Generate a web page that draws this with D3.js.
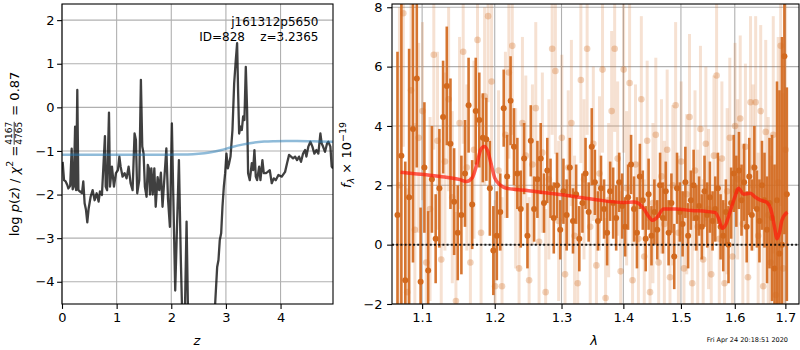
<!DOCTYPE html>
<html><head><meta charset="utf-8">
<script src="https://cdn.jsdelivr.net/npm/d3@7"></script>
<style>body{margin:0;background:#fff} svg{display:block;font-family:"DejaVu Sans",sans-serif}</style>
</head><body><svg id="c" width="800" height="350"></svg>
<script>
// ---------- Left panel data: log p(z) ----------
const pzZ = [0.012,0.037,0.067,0.097,0.116,0.150,0.177,0.195,0.215,0.240,0.258,0.280,0.300,0.329,0.366,0.390,0.414,0.439,0.463,0.488,0.524,0.561,0.597,0.634,0.670,0.695,0.731,0.786,0.800,0.825,0.860,0.878,0.914,0.951,0.987,1.024,1.050,1.073,1.109,1.146,1.182,1.219,1.255,1.292,1.328,1.353,1.377,1.414,1.444,1.469,1.493,1.517,1.548,1.570,1.590,1.610,1.635,1.660,1.690,1.715,1.750,1.780,1.810,1.840,1.875,1.910,1.940,1.975,2.011,2.035,2.072,2.108,2.140,2.175,2.205,2.245,2.280,2.310,2.400,2.550,2.700,2.803,2.840,2.864,2.888,2.913,2.937,2.962,2.986,3.010,3.035,3.059,3.084,3.120,3.151,3.181,3.205,3.224,3.242,3.266,3.291,3.315,3.339,3.364,3.388,3.406,3.437,3.474,3.498,3.522,3.547,3.571,3.608,3.632,3.668,3.693,3.729,3.766,3.803,3.839,3.876,3.912,3.961,4.022,4.083,4.119,4.156,4.193,4.229,4.266,4.302,4.339,4.375,4.412,4.449,4.473,4.509,4.546,4.583,4.619,4.656,4.692,4.729,4.753,4.778,4.814,4.851,4.875,4.912,4.936,4.960];
const pzLog = [-1.25,-1.67,-1.70,-1.78,-1.86,-1.80,-0.95,-1.88,-1.82,-0.44,-1.90,0.40,-1.90,-1.93,-1.97,-1.70,-2.20,-2.35,-2.64,-2.32,-2.05,-1.90,-2.13,-1.97,-2.16,-1.93,-2.01,-0.66,-1.82,-1.90,-0.12,-1.82,-1.36,-1.82,-1.51,-1.44,-1.13,-1.36,-1.59,-1.51,-1.63,-1.36,-1.74,-1.90,-0.60,-0.75,-1.97,-1.67,0.63,-0.90,-1.06,-1.82,-2.05,-1.32,-1.40,-2.00,-1.40,-2.00,-1.40,-2.28,-1.60,-1.90,-1.50,-2.28,-1.60,-0.94,-2.10,-2.74,-0.37,-1.90,-4.20,-2.60,-1.21,-3.50,-5.00,-5.00,-2.62,-5.00,-7.00,-8.00,-6.50,-4.51,-3.66,-3.50,-3.04,-2.89,-2.28,-1.82,-1.51,-1.06,-1.40,-1.28,-1.13,-0.52,0.55,1.09,1.47,0.32,-0.60,-0.44,-0.52,-0.21,-0.29,0.93,-0.06,-1.51,-1.67,-1.28,-1.44,-0.98,-1.59,-1.67,-1.36,-1.67,-1.21,-1.51,-1.51,-1.48,-1.44,-1.74,-1.63,-1.67,-1.55,-1.59,-1.48,-1.28,-1.09,-1.13,-1.17,-1.13,-1.21,-1.13,-1.25,-1.06,-0.98,-1.13,-0.90,-0.79,-0.90,-1.06,-0.98,-1.06,-0.60,-0.83,-0.90,-1.02,-0.83,-0.79,-0.90,-1.36,-1.40];
const priorZ = [0,0.5,1.0,1.5,2.0,2.3,2.5,2.7,2.9,3.1,3.3,3.5,3.7,3.9,4.1,4.3,4.5,4.7,4.96];
const priorLog = [-1.09,-1.09,-1.09,-1.09,-1.085,-1.08,-1.065,-1.035,-0.985,-0.915,-0.855,-0.81,-0.785,-0.775,-0.77,-0.772,-0.777,-0.782,-0.79];
const zTicks = [0,1,2,3,4];
const zTickLabels = ["0","1","2","3","4"];
const logTicks = [-4,-3,-2,-1,0,1,2];
const logTickLabels = ["\u22124","\u22123","\u22122","\u22121","0","1","2"];

// ---------- Right panel data: spectrum ----------
const darkLam = [1.068,1.073,1.078,1.083,1.088,1.093,1.098,1.103,1.108,1.113,1.118,1.123,1.128,1.133,1.138,1.143,1.148,1.153,1.158,1.163,1.168,1.173,1.178,1.183,1.188,1.193,1.198,1.203,1.208,1.213,1.218,1.223,1.228,1.233,1.238,1.243,1.248,1.253,1.258,1.263,1.268,1.273,1.278,1.283,1.288,1.293,1.298,1.303,1.308,1.313,1.318,1.323,1.328,1.333,1.338,1.343,1.348,1.353,1.358,1.363,1.368,1.373,1.378,1.383,1.388,1.393,1.398,1.403,1.408,1.413,1.418,1.423,1.428,1.433,1.438,1.443,1.448,1.453,1.458,1.463,1.468,1.473,1.478,1.483,1.488,1.493,1.498,1.503,1.508,1.513,1.518,1.523,1.528,1.533,1.538,1.543,1.548,1.553,1.558,1.563,1.568,1.573,1.578,1.583,1.588,1.593,1.598,1.603,1.608,1.613,1.618,1.623,1.628,1.633,1.638,1.643,1.648,1.653,1.658,1.663,1.668,1.673,1.678,1.683,1.688,1.693,1.698,1.703];
const darkFlux = [1.0,3.0,-1.2,1.6,3.9,5.6,-1.25,2.6,-0.87,2.2,0.2,1.9,4.3,5.35,3.4,1.45,0.4,1.0,2.4,4.7,1.35,4.5,4.2,3.6,3.55,1.9,-0.2,0.3,1.1,4.6,2.3,4.85,3.3,2.4,1.2,2.9,0.3,3.5,1.2,2.2,2.9,1.4,2.5,1.9,0.9,2.0,0.5,1.8,1.0,2.6,0.8,1.7,0.2,1.4,2.4,1.1,3.3,2.1,0.8,1.9,1.2,0.4,1.8,1.4,0.9,2.1,1.3,0.6,1.6,2.7,1.2,0.4,2.3,1.5,0.2,1.7,0.3,1.1,0.5,2.0,0.9,1.8,0.4,1.4,-0.4,1.9,1.1,0.7,2.1,0.3,1.5,2.0,0.9,1.3,0.6,1.8,1.0,1.6,0.8,1.2,1.9,0.6,0.3,1.1,0.0,1.4,2.4,1.8,2.5,1.5,2.1,0.6,2.3,1.0,2.6,1.2,0.8,2.0,1.5,0.5,1.4,0.9,-0.8,1.5,-0.3,0.0,6.35,1.7];
const darkErr = [5.5,6.0,4.0,5.0,4.5,3.0,2.5,2.2,2.0,1.8,1.5,2.0,1.9,2.0,2.2,1.8,1.6,2.0,1.8,1.6,1.5,1.8,1.6,1.5,1.4,1.6,1.5,1.5,1.3,1.3,1.4,1.5,1.3,1.2,1.3,1.2,1.1,1.2,1.1,1.3,1.2,1.0,1.1,1.0,1.2,1.1,1.0,1.1,1.2,1.0,1.1,1.0,1.1,1.0,1.2,1.0,1.3,1.1,1.0,1.1,1.0,1.1,1.0,1.2,1.1,1.0,1.1,1.0,1.1,1.0,1.1,1.2,1.1,1.0,1.1,1.2,1.0,1.1,1.0,1.1,1.2,1.0,1.1,1.0,1.1,1.2,1.0,1.1,1.2,1.1,1.0,1.2,1.1,1.0,1.1,1.2,1.1,1.2,1.0,1.1,1.2,1.1,1.2,1.1,1.3,1.2,1.3,1.2,1.3,1.2,1.3,1.2,1.3,1.2,1.4,1.3,1.4,1.5,1.6,1.8,2.2,2.8,3.5,4.0,5.5,7.0,6.0,3.6];
const lightLam = [1.0705,1.0755,1.0805,1.0855,1.0905,1.0955,1.1005,1.1055,1.1105,1.1155,1.1205,1.1255,1.1305,1.1355,1.1405,1.1455,1.1505,1.1555,1.1605,1.1655,1.1705,1.1755,1.1805,1.1855,1.1905,1.1955,1.2005,1.2055,1.2105,1.2155,1.2205,1.2255,1.2305,1.2355,1.2405,1.2455,1.2505,1.2555,1.2605,1.2655,1.2705,1.2755,1.2805,1.2855,1.2905,1.2955,1.3005,1.3055,1.3105,1.3155,1.3205,1.3255,1.3305,1.3355,1.3405,1.3455,1.3505,1.3555,1.3605,1.3655,1.3705,1.3755,1.3805,1.3855,1.3905,1.3955,1.4005,1.4055,1.4105,1.4155,1.4205,1.4255,1.4305,1.4355,1.4405,1.4455,1.4505,1.4555,1.4605,1.4655,1.4705,1.4755,1.4805,1.4855,1.4905,1.4955,1.5005,1.5055,1.5105,1.5155,1.5205,1.5255,1.5305,1.5355,1.5405,1.5455,1.5505,1.5555,1.5605,1.5655,1.5705,1.5755,1.5805,1.5855,1.5905,1.5955,1.6005,1.6055,1.6105,1.6155,1.6205,1.6255,1.6305,1.6355,1.6405,1.6455,1.6505,1.6555,1.6605,1.6655,1.6705,1.6755,1.6805,1.6855,1.6905,1.6955,1.7005];
const lightFlux = [2.0,7.8,-1.6,5.2,0.5,3.6,4.5,-0.6,1.2,6.4,3.5,-0.5,2.8,4.9,1.6,-1.9,4.1,6.5,2.6,-0.6,3.2,6.9,0.4,5.0,7.7,5.5,-1.4,2.5,-1.4,3.7,5.8,6.7,1.9,-0.8,4.1,3.0,-1.2,2.7,4.6,0.1,3.1,-1.6,2.2,6.6,5.85,0.8,3.6,-1.0,2.6,4.1,0.3,-1.3,5.55,2.2,6.6,0.6,3.4,-0.7,2.4,5.9,-1.8,1.5,4.5,6.6,2.9,-0.9,5.9,1.9,5.45,-1.2,2.7,0.2,4.9,-0.4,3.5,-1.6,1.4,3.7,-0.6,2.3,0.7,3.2,-1.1,2.0,4.7,0.4,2.8,-0.8,1.7,4.3,-1.3,2.5,0.6,3.9,-0.5,3.4,1.2,-1.0,3.0,5.7,0.2,2.9,-1.3,1.8,3.6,-0.4,4.0,2.2,4.25,0.7,3.3,-1.1,4.8,2.6,4.8,0.3,4.5,-1.4,3.8,1.0,-0.6,3.7,-1.7,2.1,6.7,-0.8,3.2];
const lightErr = [6,4.5,3.5,3.5,3.6,3.2,3.0,2.9,3.1,3.2,3.0,2.9,3.0,3.1,2.9,3.0,2.9,3.1,2.8,2.9,3.0,2.9,2.8,3.0,2.9,2.8,2.9,2.7,3.0,2.8,2.9,3.0,2.7,2.8,2.9,2.7,2.8,2.7,2.9,2.8,2.7,2.8,2.7,2.9,2.8,2.7,2.8,2.7,2.6,2.8,2.7,2.6,2.8,2.7,2.9,2.7,2.6,2.7,2.6,2.8,2.7,2.6,2.7,2.8,2.6,2.7,2.8,2.6,2.7,2.6,2.7,2.6,2.8,2.6,2.7,2.8,2.7,2.6,2.7,2.6,2.8,2.7,2.6,2.7,2.8,2.6,2.7,2.6,2.7,2.8,2.6,2.7,2.6,2.8,2.7,2.6,2.7,2.6,2.7,2.8,2.7,2.6,2.7,2.8,2.7,2.6,2.8,2.7,2.8,2.7,2.8,2.7,2.9,2.8,2.9,2.8,2.9,3.0,3.1,3.3,3.6,4.0,4.4,4.9,5.4,5.9,6.4];
const modelLam = [1.072,1.09,1.11,1.13,1.15,1.16,1.168,1.175,1.18,1.185,1.19,1.195,1.20,1.208,1.217,1.25,1.30,1.35,1.40,1.417,1.425,1.435,1.443,1.450,1.457,1.469,1.49,1.52,1.547,1.563,1.570,1.576,1.582,1.590,1.60,1.607,1.617,1.630,1.640,1.650,1.663,1.672,1.678,1.683,1.688,1.693,1.704];
const modelFlux = [2.44,2.39,2.34,2.28,2.2,2.13,2.25,2.75,3.2,3.31,3.15,2.7,2.25,2.01,1.9,1.82,1.68,1.53,1.42,1.44,1.4,1.2,0.95,0.82,0.9,1.2,1.2,1.15,1.12,1.08,0.85,0.55,0.65,1.05,1.6,1.9,1.7,1.73,1.6,1.5,1.42,1.1,0.6,0.2,0.4,0.82,1.1];
const lamTicks = [1.1,1.2,1.3,1.4,1.5,1.6,1.7];
const lamTickLabels = ["1.1","1.2","1.3","1.4","1.5","1.6","1.7"];
const fluxTicks = [-2,0,2,4,6,8];
const fluxTickLabels = ["\u22122","0","2","4","6","8"];

// ---------- drawing ----------
const svg = d3.select('#c');
svg.append('rect').attr('width',800).attr('height',350).attr('fill','#fff');
const FS = 13;
const gridC = '#b0b0b0';

function panel(xs, ys, id){
  const [x0,x1] = xs.range(), [y1,y0] = ys.range();
  const defs = svg.append('defs');
  defs.append('clipPath').attr('id',id).append('rect')
    .attr('x',x0).attr('y',y0).attr('width',x1-x0).attr('height',y1-y0);
  const g = svg.append('g');
  return {g, x0,x1,y0,y1};
}

// Left panel
const xL = d3.scaleLinear().domain([0,4.96]).range([62,333]);
const yL = d3.scaleLinear().domain([-4.51,2.37]).range([304,4]);
const PL = panel(xL,yL,'clipL');
const gridL = PL.g.append('g');
zTicks.forEach(t=>gridL.append('line').attr('x1',xL(t)).attr('x2',xL(t)).attr('y1',PL.y0).attr('y2',PL.y1).attr('stroke',gridC).attr('stroke-width',1.1));
logTicks.forEach(t=>gridL.append('line').attr('x1',PL.x0).attr('x2',PL.x1).attr('y1',yL(t)).attr('y2',yL(t)).attr('stroke',gridC).attr('stroke-width',1.1));
const dataL = PL.g.append('g').attr('clip-path','url(#clipL)');
dataL.append('path').datum(pzZ.map((z,i)=>[z,pzLog[i]]))
  .attr('d',d3.line().x(d=>xL(d[0])).y(d=>yL(d[1])))
  .attr('fill','none').attr('stroke','#000').attr('stroke-opacity',0.75).attr('stroke-width',2.3).attr('stroke-linejoin','round');
dataL.append('path').datum(priorZ.map((z,i)=>[z,priorLog[i]]))
  .attr('d',d3.line().curve(d3.curveMonotoneX).x(d=>xL(d[0])).y(d=>yL(d[1])))
  .attr('fill','none').attr('stroke','#1f77b4').attr('stroke-opacity',0.5).attr('stroke-width',2.5);

const axL = PL.g.append('g').attr('transform',`translate(0,${PL.y1})`)
  .call(d3.axisBottom(xL).tickValues(zTicks).tickFormat((d,i)=>zTickLabels[i]).tickSize(4.9).tickPadding(3.5));
const ayL = PL.g.append('g').attr('transform',`translate(${PL.x0},0)`)
  .call(d3.axisLeft(yL).tickValues(logTicks).tickFormat((d,i)=>logTickLabels[i]).tickSize(4.9).tickPadding(2.5));
[axL,ayL].forEach(a=>{a.select('.domain').remove();a.selectAll('line').attr('stroke-width',1.1);a.selectAll('text').attr('font-size',FS).attr('font-family','DejaVu Sans').attr('fill','#000');});
PL.g.append('rect').attr('x',PL.x0).attr('y',PL.y0).attr('width',PL.x1-PL.x0).attr('height',PL.y1-PL.y0).attr('fill','none').attr('stroke','#000').attr('stroke-width',1.1);

PL.g.append('text').attr('x',318.5).attr('y',26).attr('text-anchor','end').attr('font-size',12).text('j161312p5650');
PL.g.append('text').attr('x',318.5).attr('y',40.5).attr('text-anchor','end').attr('font-size',12).style('white-space','pre').text('ID=828    z=3.2365');

// x label z
svg.append('text').attr('x',197).attr('y',345).attr('text-anchor','middle').attr('font-size',FS).attr('font-style','italic').text('z');

// y label left (rotated) with fraction
{
  const outer = svg.append('g').attr('transform','translate(18.5,154) rotate(-90)');
  const inner = outer.append('g');
  const t1 = inner.append('text').attr('font-size',FS).attr('x',0).attr('y',0);
  t1.append('tspan').text('log ');
  t1.append('tspan').attr('font-style','italic').text('p');
  t1.append('tspan').text('(');
  t1.append('tspan').attr('font-style','italic').text('z');
  t1.append('tspan').text(') / ');
  t1.append('tspan').attr('font-style','italic').text('\u03c7');
  t1.append('tspan').attr('font-size',9.5).attr('dy',-5.5).text('2');
  t1.append('tspan').attr('dy',5.5).text(' = ');
  const w1 = t1.node().getComputedTextLength();
  const fr = inner.append('g');
  const num = fr.append('text').attr('font-size',9).attr('y',-6.5).attr('text-anchor','middle').text('4167');
  const fw = num.node().getComputedTextLength();
  const fx = w1 + 1 + fw/2;
  num.attr('x',fx);
  fr.append('text').attr('font-size',9).attr('y',3.2).attr('x',fx).attr('text-anchor','middle').text('4765');
  fr.append('line').attr('x1',w1+1).attr('x2',w1+1+fw).attr('y1',-4.3).attr('y2',-4.3).attr('stroke','#000').attr('stroke-width',0.8);
  const t3 = inner.append('text').attr('font-size',FS).attr('x',w1+2+fw+1).attr('y',0).style('white-space','pre').text(' = 0.87');
  const W = w1+3+fw+t3.node().getComputedTextLength();
  inner.attr('transform',`translate(${-W/2},0)`);
}

// Right panel
const xR = d3.scaleLog().domain([1.061,1.728]).range([392,799]);
const yR = d3.scaleLinear().domain([-2,8.11]).range([304,4]);
const PR = panel(xR,yR,'clipR');
const gridR = PR.g.append('g');
lamTicks.forEach(t=>gridR.append('line').attr('x1',xR(t)).attr('x2',xR(t)).attr('y1',PR.y0).attr('y2',PR.y1).attr('stroke',gridC).attr('stroke-width',1.1));
fluxTicks.forEach(t=>gridR.append('line').attr('x1',PR.x0).attr('x2',PR.x1).attr('y1',yR(t)).attr('y2',yR(t)).attr('stroke',gridC).attr('stroke-width',1.1));
const dataR = PR.g.append('g').attr('clip-path','url(#clipR)');
const oc = '#d2691e';
const lightG = dataR.append('g');
lightLam.forEach((l,i)=>{
  lightG.append('line').attr('x1',xR(l)).attr('x2',xR(l)).attr('y1',yR(lightFlux[i]-lightErr[i])).attr('y2',yR(lightFlux[i]+lightErr[i]))
    .attr('stroke',oc).attr('stroke-opacity',0.2).attr('stroke-width',3);
  lightG.append('circle').attr('cx',xR(l)).attr('cy',yR(lightFlux[i])).attr('r',3.3).attr('fill',oc).attr('fill-opacity',0.3);
});
const darkG = dataR.append('g');
darkLam.forEach((l,i)=>{
  darkG.append('line').attr('x1',xR(l)).attr('x2',xR(l)).attr('y1',yR(darkFlux[i]-darkErr[i])).attr('y2',yR(darkFlux[i]+darkErr[i]))
    .attr('stroke',oc).attr('stroke-opacity',0.92).attr('stroke-width',2.6);
  darkG.append('circle').attr('cx',xR(l)).attr('cy',yR(darkFlux[i])).attr('r',3).attr('fill',oc);
});
dataR.append('path').datum(modelLam.map((l,i)=>[l,modelFlux[i]]))
  .attr('d',d3.line().curve(d3.curveMonotoneX).x(d=>xR(d[0])).y(d=>yR(d[1])))
  .attr('fill','none').attr('stroke','#ff1a0a').attr('stroke-opacity',0.7).attr('stroke-width',3.5).attr('stroke-linejoin','round');
dataR.append('line').attr('x1',PR.x0).attr('x2',PR.x1).attr('y1',yR(0)).attr('y2',yR(0))
  .attr('stroke','#000').attr('stroke-opacity',0.85).attr('stroke-width',2).attr('stroke-dasharray','2,2.2');

const axR = PR.g.append('g').attr('transform',`translate(0,${PR.y1})`)
  .call(d3.axisBottom(xR).tickValues(lamTicks).tickFormat((d,i)=>lamTickLabels[i]).tickSize(4.9).tickPadding(3.5));
const ayR = PR.g.append('g').attr('transform',`translate(${PR.x0},0)`)
  .call(d3.axisLeft(yR).tickValues(fluxTicks).tickFormat((d,i)=>fluxTickLabels[i]).tickSize(4.9).tickPadding(4.5));
[axR,ayR].forEach(a=>{a.select('.domain').remove();a.selectAll('line').attr('stroke-width',1.1);a.selectAll('text').attr('font-size',FS).attr('font-family','DejaVu Sans').attr('fill','#000');});
PR.g.append('rect').attr('x',PR.x0).attr('y',PR.y0).attr('width',PR.x1-PR.x0).attr('height',PR.y1-PR.y0).attr('fill','none').attr('stroke','#000').attr('stroke-width',1.1);

svg.append('text').attr('x',594).attr('y',345).attr('text-anchor','middle').attr('font-size',FS).attr('font-style','italic').text('\u03bb');
{
  const t = svg.append('text').attr('transform','translate(351,155) rotate(-90)').attr('text-anchor','middle').attr('font-size',FS);
  t.append('tspan').attr('font-style','italic').text('f');
  t.append('tspan').attr('font-style','italic').attr('font-size',9.5).attr('dy',3).text('\u03bb');
  t.append('tspan').attr('dy',-3).text(' \u00d7 10');
  t.append('tspan').attr('font-size',9.5).attr('dy',-5.5).text('\u221219');
}
svg.append('text').attr('x',788).attr('y',342).attr('text-anchor','end').attr('font-size',6.5).text('Fri Apr 24 20:18:51 2020');
</script></body></html>
